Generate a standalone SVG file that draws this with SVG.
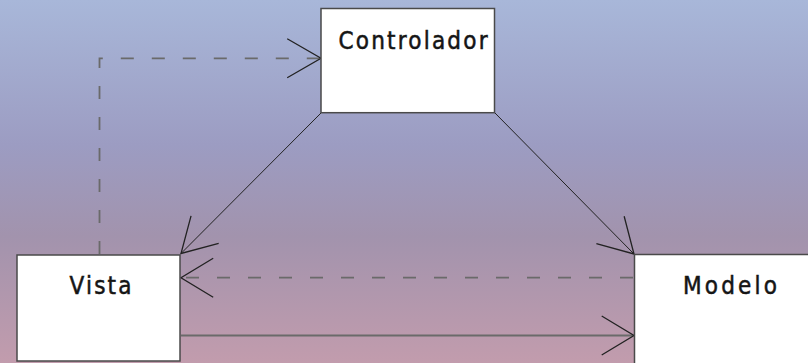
<svg xmlns="http://www.w3.org/2000/svg" width="808" height="363" viewBox="0 0 808 363">
  <defs>
    <linearGradient id="bg" x1="0" y1="0" x2="0" y2="1">
      <stop offset="0" stop-color="#a8b7d9"/>
      <stop offset="0.4" stop-color="#9c9cc2"/>
      <stop offset="0.65" stop-color="#a293ad"/>
      <stop offset="1" stop-color="#c29cad"/>
    </linearGradient>
    <marker id="open" markerUnits="userSpaceOnUse" markerWidth="40" markerHeight="44" viewBox="-36 -22 40 44" refX="0" refY="0" orient="auto" overflow="visible">
      <path d="M-33.8,-19.5 L0,0 L-33.8,19.5" fill="none" stroke="#222" stroke-width="1.3"/>
    </marker>
  </defs>
  <style>
    .box { fill: #ffffff; stroke: #4a4a4a; stroke-width: 1.5; }
    .label { font-family: "DejaVu Sans Condensed", "DejaVu Sans", "Liberation Sans", sans-serif; font-stretch: condensed; font-size: 24px; fill: #151515; stroke: #151515; stroke-width: 0.5; }
    .solid { fill: none; stroke: #222; stroke-width: 1; }
    .solid-h { fill: none; stroke: #6a6a6a; stroke-width: 2; }
    .dashed { fill: none; stroke: #6a6a6a; stroke-width: 1.8; stroke-dasharray: 13 18; }
    .head { fill: none; stroke: #222; stroke-width: 1.3; }
  </style>
  <rect x="0" y="0" width="808" height="363" fill="url(#bg)"/>

  <g id="connectors">
    <path class="dashed" d="M99.5,254 L99.5,58.3 L320,58.3"/>
    <path class="head" d="M287.2,38.8 L321,58.3 L287.2,77.8"/>
    <path class="solid" d="M321,113 L181,253.5" marker-end="url(#open)"/>
    <path class="solid" d="M495,113 L634,254" marker-end="url(#open)"/>
    <path class="dashed" d="M633,277.7 L181,277.7"/>
    <path class="head" d="M213.2,258.2 L181,277.7 L213.2,297.2"/>
    <path class="solid-h" d="M181,335.5 L633,335.5"/>
    <path class="head" d="M601.7,316 L634,335.5 L601.7,355"/>
  </g>

  <g id="controlador">
    <rect class="box" x="321" y="8.5" width="173.5" height="104.2"/>
    <text class="label" x="338.5" y="48.5" textLength="149" lengthAdjust="spacing">Controlador</text>
  </g>

  <g id="vista">
    <rect class="box" x="17" y="255" width="163" height="106"/>
    <text class="label" x="69.5" y="294" textLength="62" lengthAdjust="spacing">Vista</text>
  </g>

  <g id="modelo">
    <rect class="box" x="634.5" y="254.5" width="180" height="115"/>
    <text class="label" x="683" y="293.5" textLength="94" lengthAdjust="spacing">Modelo</text>
  </g>
</svg>
